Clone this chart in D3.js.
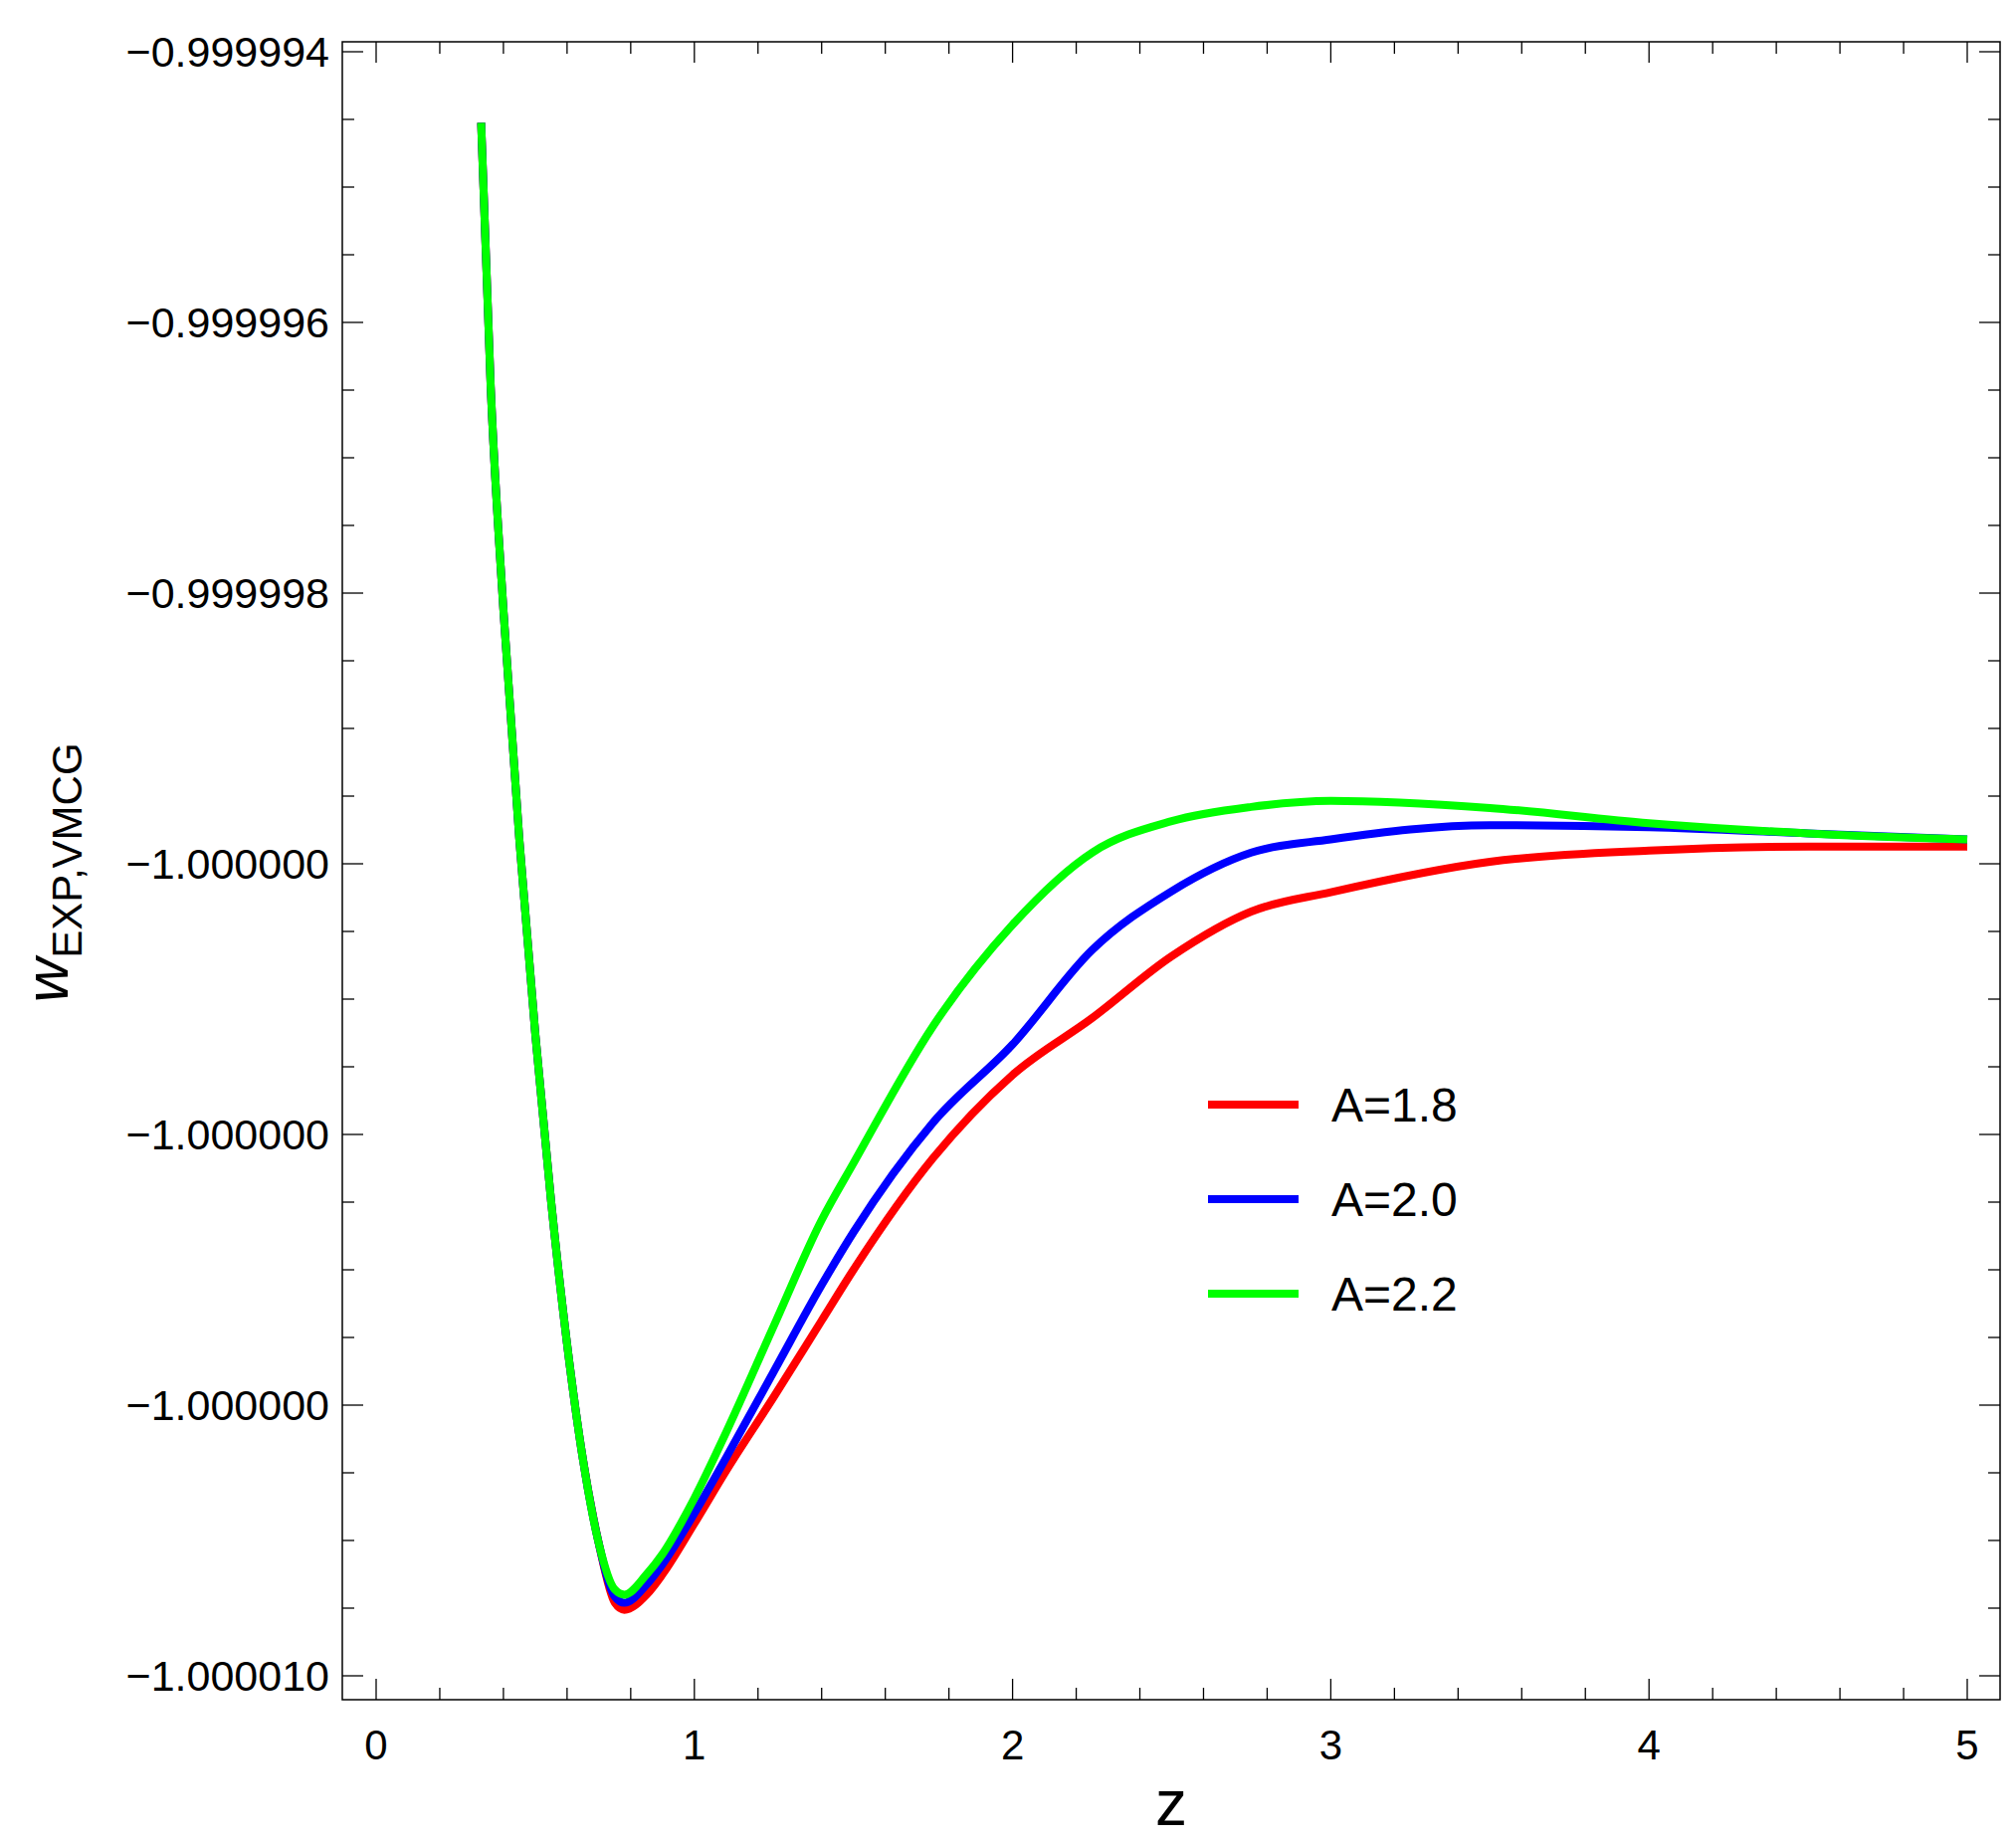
<!DOCTYPE html>
<html><head><meta charset="utf-8">
<script src="https://cdn.jsdelivr.net/npm/d3@7"></script>
<style>body{margin:0;background:#fff}</style>
</head><body>
<svg id="chart" width="2026" height="1851"></svg>
<script>
// values are (w + 1) * 1e6
var zCommon = [0.33, 0.36, 0.40, 0.45, 0.50, 0.55, 0.60, 0.65, 0.70];
var vCommon = [5.3, 2.7, 0.5, -1.76, -3.67, -5.33, -6.73, -7.87, -8.70];
var zTail = [0.75, 0.78, 0.85, 0.9, 1.0, 1.1, 1.25, 1.4, 1.5, 1.75, 2.0, 2.25, 2.5, 2.75, 3.0, 3.5, 4.0, 4.5, 5.0];
var red   = [-9.28, -9.35, -9.20, -9.00, -8.50, -7.98, -7.25, -6.50, -6.00, -4.90, -4.08, -3.52, -2.91, -2.47, -2.28, -1.98, -1.87, -1.83, -1.83];
var blue  = [-9.22, -9.28, -9.10, -8.90, -8.40, -7.85, -7.00, -6.15, -5.63, -4.55, -3.78, -2.85, -2.27, -1.89, -1.76, -1.62, -1.64, -1.70, -1.76];
var green = [-9.15, -9.20, -9.00, -8.80, -8.25, -7.60, -6.55, -5.51, -4.95, -3.60, -2.60, -1.89, -1.58, -1.44, -1.38, -1.45, -1.60, -1.70, -1.76];
var names = ['A=1.8', 'A=2.0', 'A=2.2'];
var colors = ['#ff0000', '#0000ff', '#00ff00'];
var yTicks = [6, 10/3, 2/3, -2, -14/3, -22/3, -10];
var yTickLabels = ['\u22120.999994', '\u22120.999996', '\u22120.999998', '\u22121.000000', '\u22121.000000', '\u22121.000000', '\u22121.000010'];
var xTicks = [0, 1, 2, 3, 4, 5];

var svg = d3.select('#chart');
var L = 344, R = 2010, T = 42, B = 1708;
var x = d3.scaleLinear().domain([0, 5]).range([378, 1977]);
var y = d3.scaleLinear().domain([-10, 6]).range([1684, 52]);

svg.append('rect').attr('x', L).attr('y', T).attr('width', R - L).attr('height', B - T)
   .attr('fill', 'none').attr('stroke', '#000').attr('stroke-width', 1.5);

var xMinor = d3.range(-0.2, 5.21, 0.2).filter(function(d) { return d > -0.1 && Math.abs(d - Math.round(d)) > 0.01; });
var yMinor = [];
for (var i = 0; i < yTicks.length - 1; i++) for (var k = 1; k < 4; k++) yMinor.push(yTicks[i] + (yTicks[i+1] - yTicks[i]) * k / 4);

var g = svg.append('g').attr('stroke', '#000').attr('stroke-width', 1.3);
function xt(d, len) {
  g.append('line').attr('x1', x(d)).attr('x2', x(d)).attr('y1', B).attr('y2', B - len);
  g.append('line').attr('x1', x(d)).attr('x2', x(d)).attr('y1', T).attr('y2', T + len);
}
function yt(d, len) {
  g.append('line').attr('y1', y(d)).attr('y2', y(d)).attr('x1', L).attr('x2', L + len);
  g.append('line').attr('y1', y(d)).attr('y2', y(d)).attr('x1', R).attr('x2', R - len);
}
xTicks.forEach(function(d) { xt(d, 21); });
xMinor.forEach(function(d) { xt(d, 12); });
yTicks.forEach(function(d) { yt(d, 21); });
yMinor.forEach(function(d) { yt(d, 12); });

var font = 'Liberation Sans, Arial, sans-serif';
svg.selectAll('.xl').data(xTicks).enter().append('text')
   .attr('x', function(d) { return x(d); }).attr('y', 1768)
   .attr('text-anchor', 'middle').attr('font-family', font).attr('font-size', 42).text(function(d) { return d; });
svg.selectAll('.yl').data(yTicks).enter().append('text')
   .attr('x', 331).attr('y', function(d) { return y(d) + 15; })
   .attr('text-anchor', 'end').attr('font-family', font).attr('font-size', 43)
   .text(function(d, i) { return yTickLabels[i]; });

svg.append('text').attr('x', 1177).attr('y', 1834).attr('text-anchor', 'middle')
   .attr('font-family', font).attr('font-size', 64).text('z');
var yl = svg.append('text').attr('transform', 'translate(68,877) rotate(-90)').attr('text-anchor', 'middle')
   .attr('font-family', font);
yl.append('tspan').attr('font-size', 62).attr('font-style', 'italic').text('w');
yl.append('tspan').attr('font-size', 42).attr('dy', 14).text('EXP,VMCG');

var line = d3.line().x(function(d) { return x(d[0]); }).y(function(d) { return y(d[1]); }).curve(d3.curveMonotoneX);
[red, blue, green].forEach(function(s, i) {
  var pts = zCommon.map(function(z, j) { return [z, vCommon[j]]; })
    .concat(zTail.map(function(z, j) { return [z, s[j]]; }));
  svg.append('path').datum(pts).attr('d', line).attr('fill', 'none')
     .attr('stroke', colors[i]).attr('stroke-width', 8);
});

var lg = svg.append('g');
names.forEach(function(n, i) {
  var yy = 1110 + i * 95;
  lg.append('line').attr('x1', 1214).attr('x2', 1305).attr('y1', yy).attr('y2', yy)
    .attr('stroke', colors[i]).attr('stroke-width', 8);
  lg.append('text').attr('x', 1338).attr('y', yy + 17).attr('font-family', font).attr('font-size', 48).text(n);
});
</script>
</body></html>
